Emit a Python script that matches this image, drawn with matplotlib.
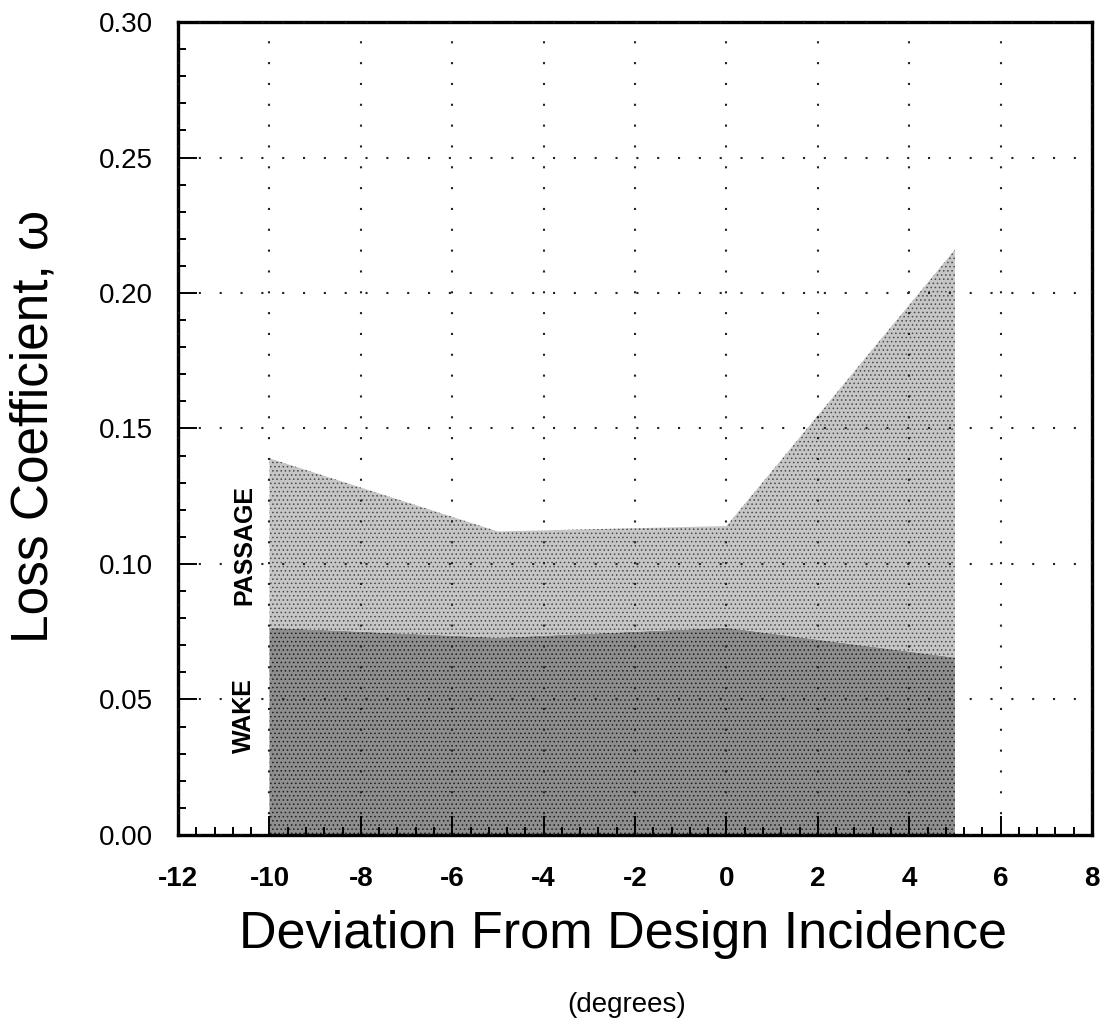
import matplotlib
matplotlib.use("Agg")
import matplotlib.pyplot as plt
from matplotlib.ticker import MultipleLocator, FormatStrFormatter
import numpy as np

plt.rcParams["font.family"] = ["Liberation Sans", "DejaVu Sans"]
plt.rcParams["axes.unicode_minus"] = False
plt.rcParams["hatch.linewidth"] = 0.6

# incidence deviation (deg) and stacked loss components
incidence = [-10, -5, 0, 5]
wake_loss = [0.0765, 0.0728, 0.0765, 0.0655]
total_loss = [0.139, 0.112, 0.114, 0.216]

x_ticks = [-12, -10, -8, -6, -4, -2, 0, 2, 4, 6, 8]
y_ticks = [0.00, 0.05, 0.10, 0.15, 0.20, 0.25, 0.30]

fig = plt.figure(figsize=(11.1, 10.34), dpi=100)
ax = fig.add_axes([0.1604, 0.1925, 0.8234, 0.7862])

# halftone-ish shading for the two loss bands
ax.fill_between(incidence, 0, wake_loss, facecolor="#8e8e8e", edgecolor="#1e1e1e",
                hatch="....", lw=0, zorder=1)
ax.fill_between(incidence, wake_loss, total_loss, facecolor="#c6c6c6", edgecolor="#4a4a4a",
                hatch="....", lw=0, zorder=1)

ax.set_xlim(-12, 8)
ax.set_ylim(0, 0.30)
ax.set_xticks(x_ticks)
ax.set_yticks(y_ticks)
ax.xaxis.set_minor_locator(MultipleLocator(0.4))
ax.yaxis.set_minor_locator(MultipleLocator(0.01))
ax.yaxis.set_major_formatter(FormatStrFormatter("%.2f"))

ax.grid(True, which="major", color="#222222", lw=1.5, linestyle=(0, (1, 9)), zorder=2)
ax.set_axisbelow(False)

ax.tick_params(which="both", direction="in", top=False, right=False, width=1.4, color="black")
ax.tick_params(which="major", length=14)
ax.tick_params(which="minor", length=6)
ax.tick_params(axis="y", which="major", pad=18, labelsize=20)
ax.tick_params(axis="x", which="major", pad=22, labelsize=20)
for lab in ax.get_xticklabels():
    lab.set_fontweight("bold")

for sp in ax.spines.values():
    sp.set_linewidth(2.4)

ax.text(-10.55, 0.107, "PASSAGE", rotation=90, fontsize=18, fontweight="bold",
        ha="center", va="center")
ax.text(-10.55, 0.044, "WAKE", rotation=90, fontsize=18, fontweight="bold",
        ha="center", va="center")

fig.text(0.031, 0.588, "Loss Coefficient, ω", fontsize=37, rotation=90,
         ha="center", va="center")
fig.text(0.561, 0.096, "Deviation From Design Incidence", fontsize=37.5,
         ha="center", va="center")
fig.text(0.5645, 0.028, "(degrees)", fontsize=20, ha="center", va="center")

fig.savefig("out.png", dpi=100)
